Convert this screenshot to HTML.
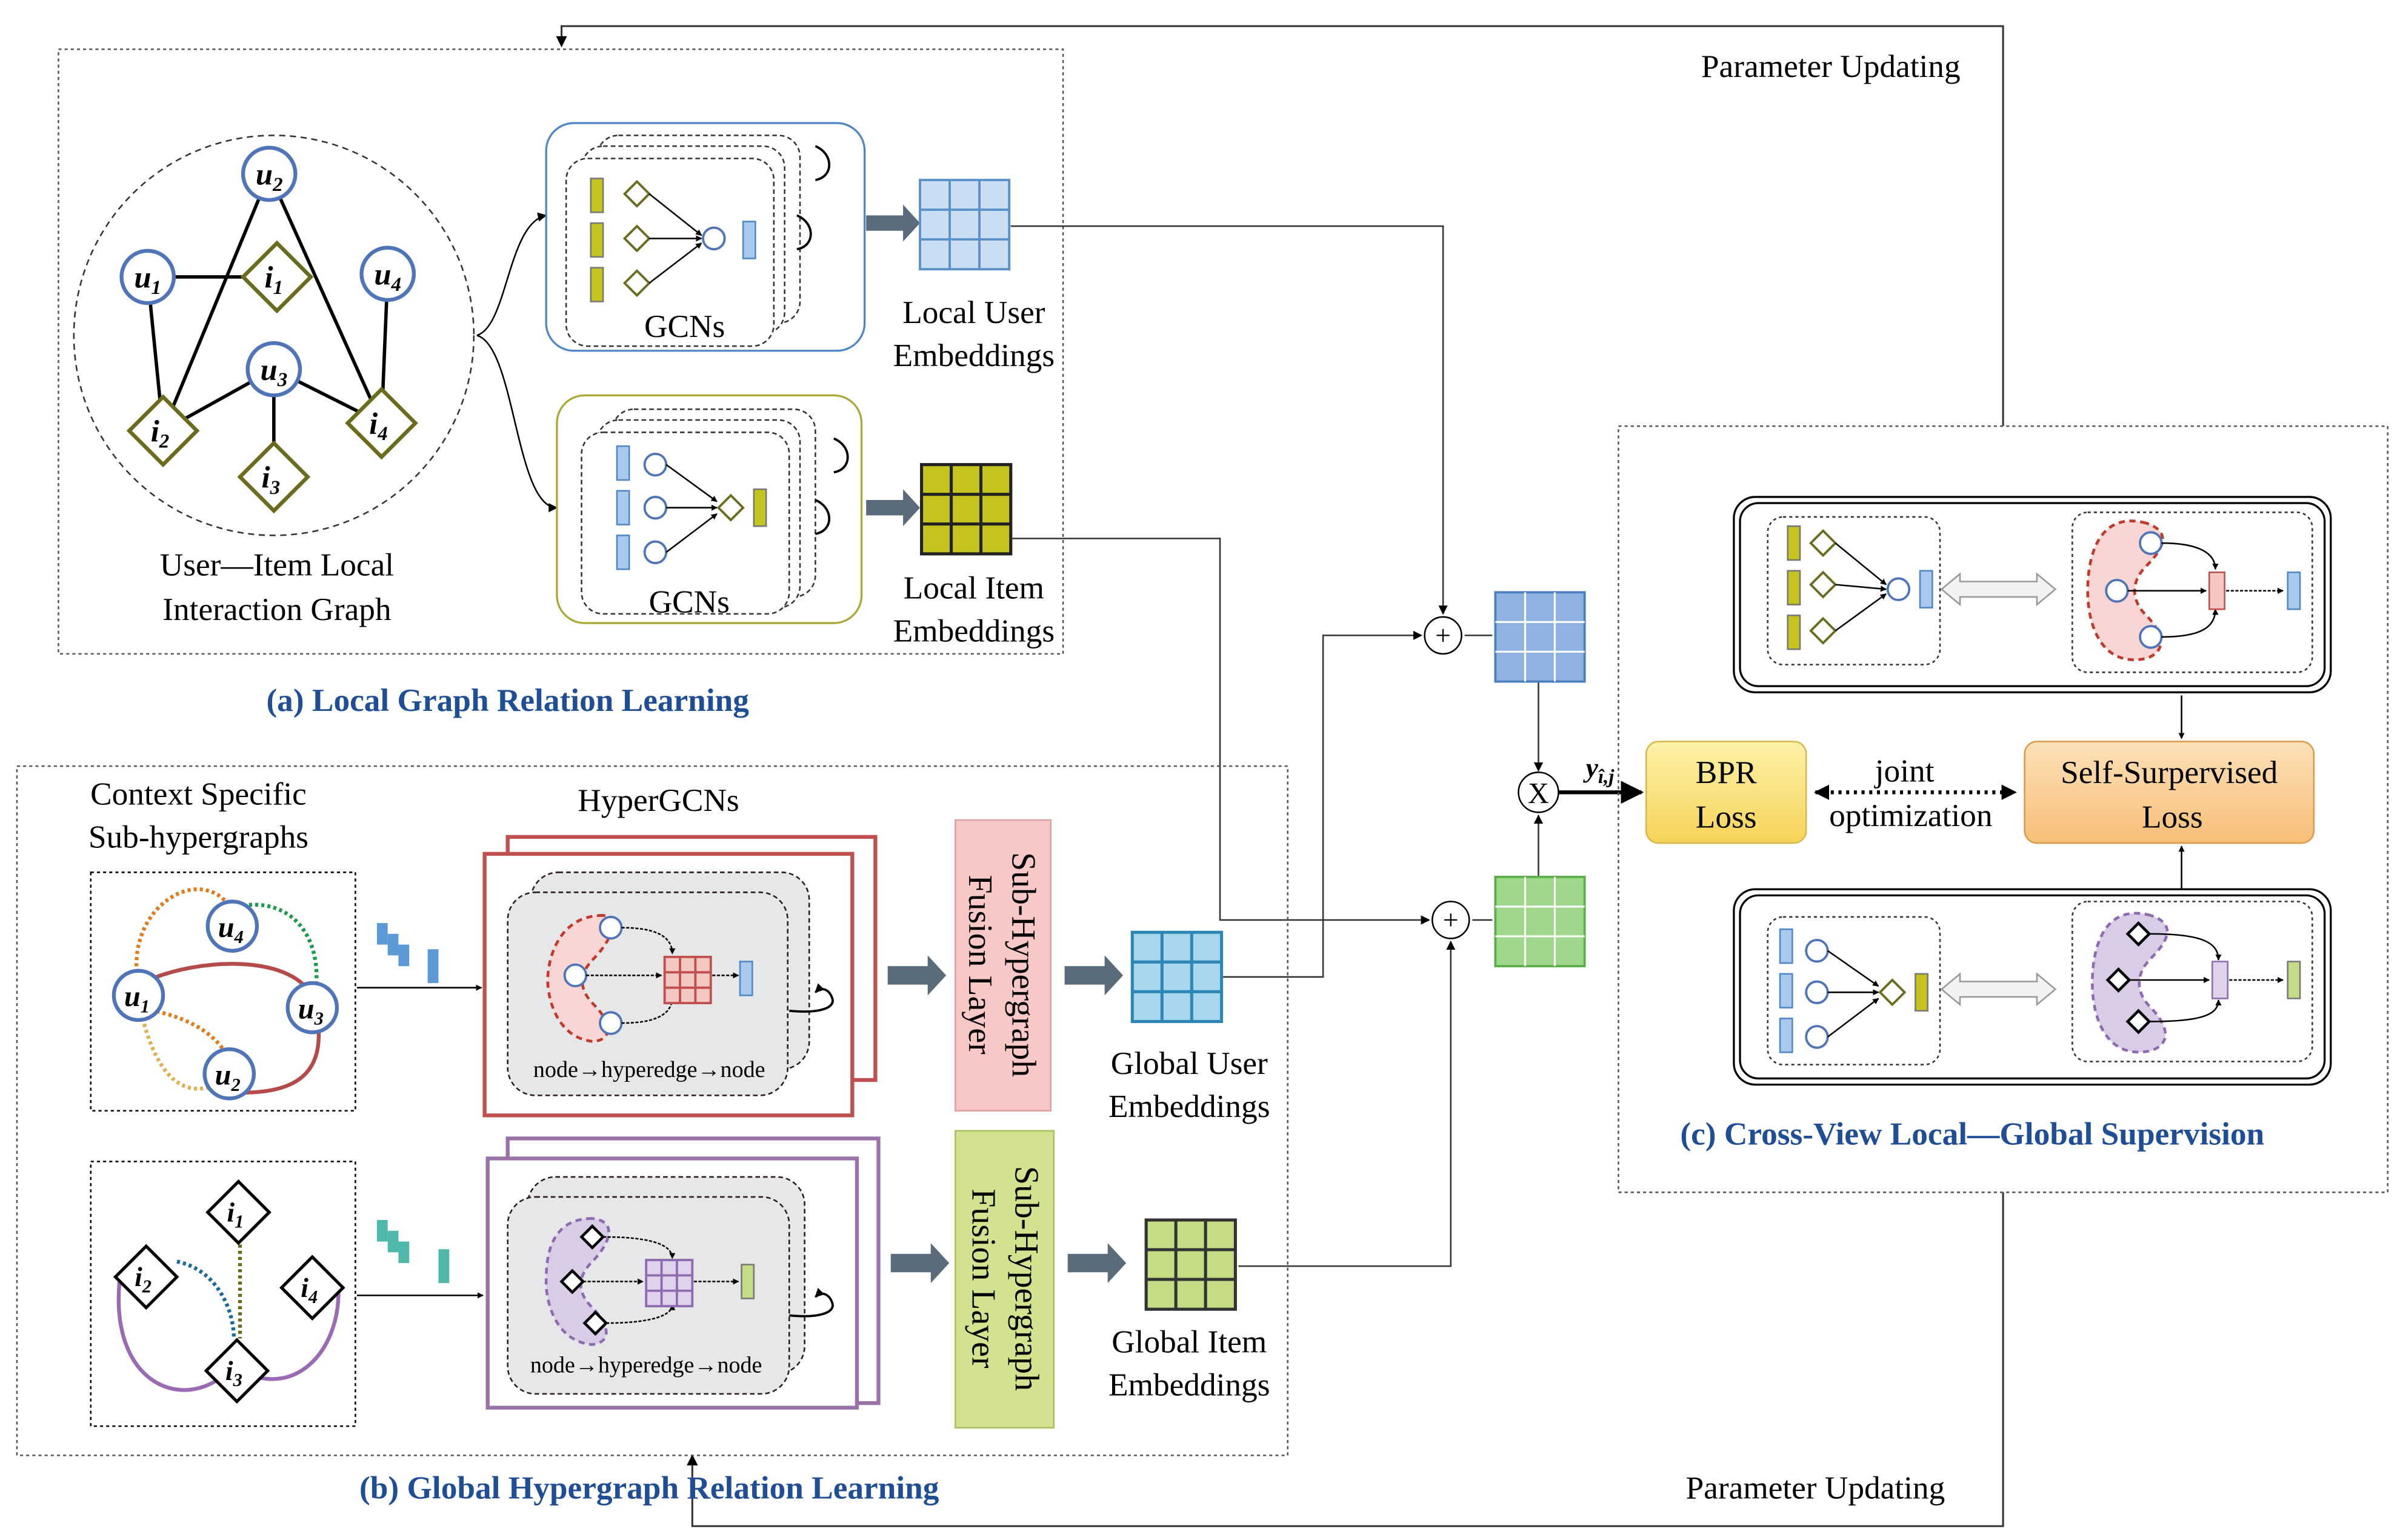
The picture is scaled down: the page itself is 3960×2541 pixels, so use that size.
<!DOCTYPE html>
<html><head><meta charset="utf-8"><style>html,body{margin:0;padding:0;background:#fff}svg{display:block}</style></head><body>
<svg width="3960" height="2541" viewBox="0 0 1560 1001" xmlns="http://www.w3.org/2000/svg" font-family="Liberation Serif, serif">
<defs>
<marker id="ar" viewBox="0 0 10 10" refX="9" refY="5" markerWidth="6" markerHeight="6" orient="auto"><path d="M0,0L10,5L0,10z" fill="#000"/></marker>
<marker id="ars" viewBox="0 0 10 10" refX="9" refY="5" markerWidth="4" markerHeight="4" orient="auto-start-reverse"><path d="M0,0L10,5L0,10z" fill="#000"/></marker>
<linearGradient id="by" x1="0" y1="0" x2="0" y2="1"><stop offset="0" stop-color="#fdf2a8"/><stop offset="1" stop-color="#f6d35a"/></linearGradient>
<linearGradient id="bo" x1="0" y1="0" x2="0" y2="1"><stop offset="0" stop-color="#fde0b8"/><stop offset="1" stop-color="#f7bf78"/></linearGradient>
<g id="gridB"><rect width="58" height="58" fill="#c9ddf3" stroke="#5b8fc7" stroke-width="1.5"/><path d="M19.3 0V58M38.6 0V58M0 19.3H58M0 38.6H58" stroke="#5b8fc7" stroke-width="1.5"/></g>
<g id="gridO"><rect width="58" height="58" fill="#c5c31e" stroke="#222" stroke-width="2"/><path d="M19.3 0V58M38.6 0V58M0 19.3H58M0 38.6H58" stroke="#222" stroke-width="2"/></g>
<g id="gridD"><rect width="58" height="58" fill="#8fb2e0" stroke="#4b7fc0" stroke-width="1.5"/><path d="M19.3 0V58M38.6 0V58M0 19.3H58M0 38.6H58" stroke="#fff" stroke-width="1.2"/></g>
<g id="gridG"><rect width="58" height="58" fill="#9fd78c" stroke="#5cae48" stroke-width="1.5"/><path d="M19.3 0V58M38.6 0V58M0 19.3H58M0 38.6H58" stroke="#fff" stroke-width="1.2"/></g>
<g id="gridLB"><rect width="58" height="58" fill="#a8d6ee" stroke="#2e86b5" stroke-width="2"/><path d="M19.3 0V58M38.6 0V58M0 19.3H58M0 38.6H58" stroke="#2e86b5" stroke-width="2"/></g>
<g id="gridLG"><rect width="58" height="58" fill="#c4dc84" stroke="#333" stroke-width="2"/><path d="M19.3 0V58M38.6 0V58M0 19.3H58M0 38.6H58" stroke="#333" stroke-width="2"/></g>
</defs>

<!-- feedback lines -->
<path d="M1302 277V17H365V30" fill="none" stroke="#333" stroke-width="1.2" marker-end="url(#ar)"/>
<path d="M1302 775V992H450V946" fill="none" stroke="#333" stroke-width="1.2" marker-end="url(#ar)"/>
<text x="1190" y="50" font-size="21" text-anchor="middle">Parameter Updating</text>
<text x="1180" y="974" font-size="21" text-anchor="middle">Parameter Updating</text>

<!-- (a) -->
<rect x="38" y="32" width="653" height="393" fill="none" stroke="#555" stroke-dasharray="2,2"/>
<circle cx="178" cy="218" r="130" fill="none" stroke="#333" stroke-dasharray="4,3"/>
<g stroke="#000" stroke-width="2.2">
<line x1="175" y1="113" x2="106" y2="280"/><line x1="175" y1="113" x2="248" y2="275"/>
<line x1="96" y1="180" x2="180" y2="180"/><line x1="96" y1="180" x2="106" y2="280"/>
<line x1="178" y1="240" x2="106" y2="280"/><line x1="178" y1="240" x2="248" y2="275"/>
<line x1="178" y1="240" x2="178" y2="310"/><line x1="252" y1="178" x2="248" y2="275"/>
</g>
<g fill="#fff" stroke="#4f74b8" stroke-width="2.5">
<circle cx="175" cy="113" r="17"/><circle cx="96" cy="180" r="17"/><circle cx="252" cy="178" r="17"/><circle cx="178" cy="240" r="17"/>
</g>
<g fill="#fff" stroke="#6b6b1e" stroke-width="2.5">
<path d="M180 158l22 22-22 22-22-22z"/><path d="M106 258l22 22-22 22-22-22z"/><path d="M248 253l22 22-22 22-22-22z"/><path d="M178 288l22 22-22 22-22-22z"/>
</g>
<g font-size="20" font-style="italic" font-weight="bold" text-anchor="middle">
<text x="175" y="120">u<tspan font-size="13" dy="4">2</tspan></text>
<text x="96" y="187">u<tspan font-size="13" dy="4">1</tspan></text>
<text x="252" y="185">u<tspan font-size="13" dy="4">4</tspan></text>
<text x="178" y="247">u<tspan font-size="13" dy="4">3</tspan></text>
<text x="178" y="187">i<tspan font-size="13" dy="4">1</tspan></text>
<text x="104" y="287">i<tspan font-size="13" dy="4">2</tspan></text>
<text x="246" y="282">i<tspan font-size="13" dy="4">4</tspan></text>
<text x="176" y="317">i<tspan font-size="13" dy="4">3</tspan></text>
</g>
<text x="180" y="374" font-size="21" text-anchor="middle">User—Item Local</text>
<text x="180" y="403" font-size="21" text-anchor="middle">Interaction Graph</text>
<path d="M310 218C330 212 330 145 355 140" fill="none" stroke="#000" marker-end="url(#ar)"/>
<path d="M310 218C335 225 335 330 362 330" fill="none" stroke="#000" marker-end="url(#ar)"/>

<!-- GCN1 -->
<rect x="355" y="80" width="207" height="148" rx="18" fill="#fff" stroke="#4f86c6" stroke-width="1.3"/>
<g fill="#fff" stroke="#333" stroke-dasharray="3,2">
<rect x="388" y="88" width="132" height="122" rx="14"/><rect x="378" y="95" width="132" height="122" rx="14"/><rect x="368" y="103" width="135" height="122" rx="14"/>
</g>
<path d="M530 95c12 5 12 20 0 22M518 140c12 5 12 20 0 22" fill="none" stroke="#000" stroke-width="1.5"/>
<g fill="#c5c31e" stroke="#777"><rect x="384" y="116" width="8" height="22"/><rect x="384" y="145" width="8" height="22"/><rect x="384" y="174" width="8" height="22"/></g>
<g fill="#fff" stroke="#6b6b1e" stroke-width="1.5"><path d="M414 118l8 8-8 8-8-8z"/><path d="M414 147l8 8-8 8-8-8z"/><path d="M414 176l8 8-8 8-8-8z"/></g>
<g stroke="#000"><line x1="422" y1="126" x2="456" y2="153" marker-end="url(#ars)"/><line x1="422" y1="155" x2="456" y2="155" marker-end="url(#ars)"/><line x1="422" y1="184" x2="456" y2="158" marker-end="url(#ars)"/></g>
<circle cx="464" cy="155" r="7" fill="#fff" stroke="#4f74b8" stroke-width="1.5"/>
<rect x="483" y="144" width="8" height="24" fill="#a8c8ec" stroke="#4f86c6"/>
<text x="445" y="219" font-size="21" text-anchor="middle">GCNs</text>

<!-- GCN2 -->
<rect x="362" y="257" width="198" height="148" rx="18" fill="#fff" stroke="#a9a938" stroke-width="1.3"/>
<g fill="#fff" stroke="#333" stroke-dasharray="3,2">
<rect x="398" y="266" width="132" height="122" rx="14"/><rect x="388" y="273" width="132" height="122" rx="14"/><rect x="378" y="281" width="135" height="118" rx="14"/>
</g>
<path d="M542 285c12 5 12 20 0 22M530 325c12 5 12 20 0 22" fill="none" stroke="#000" stroke-width="1.5"/>
<g fill="#a8c8ec" stroke="#4f86c6"><rect x="401" y="290" width="8" height="22"/><rect x="401" y="319" width="8" height="22"/><rect x="401" y="348" width="8" height="22"/></g>
<g fill="#fff" stroke="#4f74b8" stroke-width="1.5"><circle cx="426" cy="302" r="7"/><circle cx="426" cy="330" r="7"/><circle cx="426" cy="359" r="7"/></g>
<g stroke="#000"><line x1="433" y1="302" x2="466" y2="326" marker-end="url(#ars)"/><line x1="433" y1="330" x2="466" y2="330" marker-end="url(#ars)"/><line x1="433" y1="359" x2="466" y2="334" marker-end="url(#ars)"/></g>
<path d="M475 322l8 8-8 8-8-8z" fill="#fff" stroke="#6b6b1e" stroke-width="1.5"/>
<rect x="490" y="318" width="8" height="24" fill="#c5c31e" stroke="#777"/>
<text x="448" y="398" font-size="21" text-anchor="middle">GCNs</text>

<!-- thick arrows -->
<g fill="#5a6b7b">
<path d="M563 140h24v-7l11 12-11 12v-7h-24z"/><path d="M563 325h24v-7l11 12-11 12v-7h-24z"/>
<path d="M577 628h26v-7l12 13-12 13v-7h-26z"/><path d="M692 628h26v-7l12 13-12 13v-7h-26z"/>
<path d="M579 815h26v-7l12 13-12 13v-7h-26z"/><path d="M694 815h26v-7l12 13-12 13v-7h-26z"/>
</g>
<use href="#gridB" x="598" y="117"/><use href="#gridO" x="599" y="302"/>
<g font-size="21" text-anchor="middle">
<text x="633" y="210">Local User</text><text x="633" y="238">Embeddings</text>
<text x="633" y="389">Local Item</text><text x="633" y="417">Embeddings</text>
<text x="773" y="698">Global User</text><text x="773" y="726">Embeddings</text>
<text x="773" y="879">Global Item</text><text x="773" y="907">Embeddings</text>
</g>
<text x="330" y="462" font-size="21" font-weight="bold" fill="#1f4e96" text-anchor="middle">(a) Local Graph Relation Learning</text>

<!-- connectors -->
<g fill="none" stroke="#333" stroke-width="1">
<path d="M657 147H938V399" marker-end="url(#ar)"/>
<path d="M657 350H793V598H929" marker-end="url(#ar)"/>
<path d="M795 635H860V413H924" marker-end="url(#ar)"/>
<path d="M805 823H943V612" marker-end="url(#ar)"/>
<path d="M952 413H970"/><path d="M957 598H970"/>
<path d="M1000 443V501" marker-end="url(#ar)"/><path d="M1000 570V530" marker-end="url(#ar)"/>
</g>
<g fill="#fff" stroke="#000"><circle cx="938" cy="413" r="12"/><circle cx="943" cy="598" r="12"/><circle cx="1000" cy="515" r="13"/></g>
<text x="938" y="419" font-size="18" text-anchor="middle">+</text><text x="943" y="604" font-size="18" text-anchor="middle">+</text>
<text x="1000" y="522" font-size="19" text-anchor="middle">X</text>
<use href="#gridD" x="972" y="385"/><use href="#gridG" x="972" y="570"/>
<line x1="1013" y1="515" x2="1067" y2="515" stroke="#000" stroke-width="2.5" marker-end="url(#ar)"/>
<text x="1040" y="505" font-size="18" font-style="italic" font-weight="bold" text-anchor="middle">y<tspan font-size="13" dy="4">î,j</tspan></text>

<!-- (c) -->
<rect x="1052" y="277" width="500" height="498" fill="none" stroke="#555" stroke-dasharray="2,2"/>
<rect x="1070" y="482" width="104" height="66" rx="8" fill="url(#by)" stroke="#d9b84a"/>
<text x="1122" y="509" font-size="21" text-anchor="middle">BPR</text><text x="1122" y="538" font-size="21" text-anchor="middle">Loss</text>
<rect x="1316" y="482" width="188" height="66" rx="8" fill="url(#bo)" stroke="#d99a4a"/>
<text x="1410" y="509" font-size="21" text-anchor="middle">Self-Surpervised</text><text x="1412" y="538" font-size="21" text-anchor="middle">Loss</text>
<line x1="1180" y1="515" x2="1310" y2="515" stroke="#000" stroke-width="2.5" stroke-dasharray="2,3" marker-start="url(#ars)" marker-end="url(#ars)"/>
<text x="1238" y="508" font-size="21" text-anchor="middle">joint</text><text x="1242" y="537" font-size="21" text-anchor="middle">optimization</text>
<g fill="#fff" stroke="#000" stroke-width="1.3">
<rect x="1127" y="323" width="388" height="127" rx="14"/><rect x="1131" y="327" width="380" height="119" rx="12"/>
<rect x="1127" y="578" width="388" height="127" rx="14"/><rect x="1131" y="582" width="380" height="119" rx="12"/>
</g>
<line x1="1418" y1="452" x2="1418" y2="480" stroke="#000" marker-end="url(#ars)"/>
<line x1="1418" y1="578" x2="1418" y2="550" stroke="#000" marker-end="url(#ars)"/>
<g fill="none" stroke="#333" stroke-dasharray="2,2">
<rect x="1149" y="336" width="112" height="96" rx="10"/><rect x="1347" y="333" width="156" height="104" rx="10"/>
<rect x="1149" y="596" width="112" height="96" rx="10"/><rect x="1347" y="586" width="156" height="104" rx="10"/>
</g>
<!-- c top left -->
<g fill="#c5c31e" stroke="#777"><rect x="1162" y="342" width="8" height="22"/><rect x="1162" y="371" width="8" height="22"/><rect x="1162" y="400" width="8" height="22"/></g>
<g fill="#fff" stroke="#6b6b1e" stroke-width="1.5"><path d="M1185 345l8 8-8 8-8-8z"/><path d="M1185 372l8 8-8 8-8-8z"/><path d="M1185 402l8 8-8 8-8-8z"/></g>
<g stroke="#000"><line x1="1193" y1="353" x2="1226" y2="380" marker-end="url(#ars)"/><line x1="1193" y1="380" x2="1226" y2="383" marker-end="url(#ars)"/><line x1="1193" y1="410" x2="1226" y2="386" marker-end="url(#ars)"/></g>
<circle cx="1234" cy="383" r="7" fill="#fff" stroke="#4f74b8" stroke-width="1.5"/>
<rect x="1248" y="371" width="8" height="24" fill="#a8c8ec" stroke="#4f86c6"/>
<path d="M1262 383l12-10v5h50v-5l12 10-12 10v-5h-50v5z" fill="#f2f2f2" stroke="#999"/>
<path d="M1395 340c-30-8-38 20-38 44s10 50 38 44c15-5 10-18 0-28-10-10-10-22 0-32 10-10 18-22 0-28z" fill="#f9d6d3" stroke="#c0392b" stroke-width="1.8" stroke-dasharray="4,3"/>
<g fill="#fff" stroke="#4f74b8" stroke-width="1.5"><circle cx="1398" cy="353" r="7"/><circle cx="1376" cy="384" r="7"/><circle cx="1398" cy="414" r="7"/></g>
<g stroke="#000" fill="none"><path d="M1405 353C1430 353 1440 360 1440 370" marker-end="url(#ars)"/><line x1="1383" y1="384" x2="1434" y2="384" marker-end="url(#ars)"/><path d="M1405 414C1430 414 1440 408 1440 396" marker-end="url(#ars)"/><line x1="1447" y1="384" x2="1484" y2="384" stroke-dasharray="2,1" marker-end="url(#ars)"/></g>
<rect x="1436" y="372" width="10" height="24" fill="#f4c7c3" stroke="#c0504d"/>
<rect x="1487" y="372" width="8" height="24" fill="#a8c8ec" stroke="#4f86c6"/>
<!-- c bottom left -->
<g fill="#a8c8ec" stroke="#4f86c6"><rect x="1157" y="604" width="8" height="22"/><rect x="1157" y="633" width="8" height="22"/><rect x="1157" y="662" width="8" height="22"/></g>
<g fill="#fff" stroke="#4f74b8" stroke-width="1.5"><circle cx="1181" cy="618" r="7"/><circle cx="1181" cy="645" r="7"/><circle cx="1181" cy="674" r="7"/></g>
<g stroke="#000"><line x1="1188" y1="618" x2="1221" y2="641" marker-end="url(#ars)"/><line x1="1188" y1="645" x2="1221" y2="645" marker-end="url(#ars)"/><line x1="1188" y1="674" x2="1221" y2="649" marker-end="url(#ars)"/></g>
<path d="M1230 637l8 8-8 8-8-8z" fill="#fff" stroke="#6b6b1e" stroke-width="1.5"/>
<rect x="1245" y="633" width="8" height="24" fill="#c5c31e" stroke="#777"/>
<path d="M1262 643l12-10v5h50v-5l12 10-12 10v-5h-50v5z" fill="#f2f2f2" stroke="#999"/>
<path d="M1398 595c-30-8-38 20-38 44s10 50 38 44c15-5 10-18 0-28-10-10-10-22 0-32 10-10 18-22 0-28z" fill="#d8cce6" stroke="#8e6bb0" stroke-width="1.8" stroke-dasharray="4,3"/>
<g fill="#fff" stroke="#000" stroke-width="1.8"><path d="M1390 600l7 7-7 7-7-7z"/><path d="M1377 630l7 7-7 7-7-7z"/><path d="M1390 657l7 7-7 7-7-7z"/></g>
<g stroke="#000" fill="none"><path d="M1397 607C1430 607 1442 612 1442 624" marker-end="url(#ars)"/><line x1="1384" y1="637" x2="1436" y2="637" marker-end="url(#ars)"/><path d="M1397 664C1430 664 1442 660 1442 650" marker-end="url(#ars)"/><line x1="1449" y1="637" x2="1484" y2="637" stroke-dasharray="2,1" marker-end="url(#ars)"/></g>
<rect x="1438" y="625" width="10" height="24" fill="#e0d2ec" stroke="#8e6bb0"/>
<rect x="1487" y="625" width="8" height="24" fill="#c4dc84" stroke="#777"/>
<text x="1282" y="744" font-size="21" font-weight="bold" fill="#1f4e96" text-anchor="middle">(c) Cross-View Local—Global  Supervision</text>

<!-- (b) -->
<rect x="11" y="498" width="826" height="448" fill="none" stroke="#555" stroke-dasharray="2,2"/>
<text x="129" y="523" font-size="21" text-anchor="middle">Context Specific</text>
<text x="129" y="551" font-size="21" text-anchor="middle">Sub-hypergraphs</text>
<text x="428" y="527" font-size="21" text-anchor="middle">HyperGCNs</text>
<rect x="59" y="567" width="172" height="155" fill="none" stroke="#000" stroke-dasharray="2,2"/>
<rect x="59" y="755" width="172" height="172" fill="none" stroke="#000" stroke-dasharray="2,2"/>
<!-- sub-hypergraph1 -->
<path d="M90 640C80 590 130 560 150 590" fill="none" stroke="#e07b1a" stroke-width="2.5" stroke-dasharray="2,2"/>
<path d="M150 590C190 580 210 610 205 645" fill="none" stroke="#1a9a4a" stroke-width="2.5" stroke-dasharray="2,2"/>
<path d="M90 650C100 700 120 720 150 700" fill="none" stroke="#e0b050" stroke-width="2.5" stroke-dasharray="2,2"/>
<path d="M90 655C120 660 140 670 150 690" fill="none" stroke="#e07b1a" stroke-width="2.5" stroke-dasharray="2,2"/>
<path d="M90 640C130 620 200 620 205 655C215 700 190 712 150 710" fill="none" stroke="#b54a4a" stroke-width="2.5"/>
<g fill="#fff" stroke="#4f74b8" stroke-width="2.5"><circle cx="151" cy="602" r="16"/><circle cx="90" cy="647" r="16"/><circle cx="203" cy="655" r="16"/><circle cx="149" cy="698" r="16"/></g>
<g font-size="19" font-style="italic" font-weight="bold" text-anchor="middle">
<text x="150" y="609">u<tspan font-size="12" dy="4">4</tspan></text><text x="89" y="654">u<tspan font-size="12" dy="4">1</tspan></text>
<text x="202" y="662">u<tspan font-size="12" dy="4">3</tspan></text><text x="148" y="705">u<tspan font-size="12" dy="4">2</tspan></text>
</g>
<!-- sub-hypergraph2 -->
<path d="M78 830C70 900 120 920 150 890M155 890C190 910 220 880 220 840" fill="none" stroke="#9a6ab5" stroke-width="2.5"/>
<path d="M115 820C140 825 152 850 152 870" fill="none" stroke="#1a6a9a" stroke-width="2.5" stroke-dasharray="2,2"/>
<path d="M156 805V870" fill="none" stroke="#6b6b1e" stroke-width="2.5" stroke-dasharray="2,2"/>
<g fill="#fff" stroke="#000" stroke-width="2"><path d="M155 768l20 20-20 20-20-20z"/><path d="M95 810l20 20-20 20-20-20z"/><path d="M203 817l20 20-20 20-20-20z"/><path d="M154 871l20 20-20 20-20-20z"/></g>
<g font-size="18" font-style="italic" font-weight="bold" text-anchor="middle">
<text x="153" y="794">i<tspan font-size="12" dy="4">1</tspan></text><text x="93" y="836">i<tspan font-size="12" dy="4">2</tspan></text>
<text x="201" y="843">i<tspan font-size="12" dy="4">4</tspan></text><text x="152" y="897">i<tspan font-size="12" dy="4">3</tspan></text>
</g>
<!-- small vectors -->
<g fill="#5b9ad6"><rect x="245" y="600" width="7" height="14"/><rect x="252" y="607" width="7" height="14"/><rect x="259" y="614" width="7" height="14"/><rect x="278" y="617" width="7" height="22"/></g>
<g fill="#4fb8a8"><rect x="245" y="793" width="7" height="14"/><rect x="252" y="800" width="7" height="14"/><rect x="259" y="807" width="7" height="14"/><rect x="285" y="812" width="7" height="22"/></g>
<line x1="232" y1="642" x2="313" y2="642" stroke="#000" marker-end="url(#ars)"/>
<line x1="232" y1="842" x2="314" y2="842" stroke="#000" marker-end="url(#ars)"/>
<!-- red hyperGCN -->
<g fill="#fff" stroke="#c0504d" stroke-width="2.5"><rect x="330" y="544" width="239" height="158"/><rect x="315" y="555" width="239" height="170"/></g>
<g fill="#e6e7e9" stroke="#2a1a1a" stroke-dasharray="3,2"><rect x="345" y="567" width="181" height="128" rx="18"/><rect x="330" y="580" width="182" height="132" rx="18"/></g>
<path d="M392 595c-30 0-36 30-36 42s6 38 30 40c14-2 10-14 0-24-10-10-10-20 0-30 10-10 18-26 6-28z" fill="#f9d6d3" stroke="#c0392b" stroke-width="1.8" stroke-dasharray="4,3"/>
<g fill="#fff" stroke="#4f74b8" stroke-width="1.5"><circle cx="397" cy="603" r="7"/><circle cx="374" cy="634" r="7"/><circle cx="397" cy="665" r="7"/></g>
<g stroke="#000" fill="none" stroke-dasharray="2,1"><path d="M404 603C425 603 437 608 437 620" marker-end="url(#ars)"/><line x1="381" y1="634" x2="430" y2="634" marker-end="url(#ars)"/><path d="M404 665C425 665 437 660 437 648" marker-end="url(#ars)"/><line x1="463" y1="634" x2="480" y2="634" marker-end="url(#ars)"/></g>
<rect x="432" y="622" width="30" height="30" fill="#f4c7c3" stroke="#c0504d" stroke-width="1.5"/><path d="M442 622v30M452 622v30M432 632h30M432 642h30" stroke="#c0504d" stroke-width="1.5"/>
<rect x="481" y="625" width="8" height="22" fill="#a8c8ec" stroke="#4f86c6"/>
<path d="M513 657c20 2 30-2 28-8s-7-8-11-4" fill="none" stroke="#000" stroke-width="1.5" marker-end="url(#ars)"/>
<text x="422" y="700" font-size="15" text-anchor="middle">node→hyperedge→node</text>
<!-- purple hyperGCN -->
<g fill="#fff" stroke="#9a72a8" stroke-width="2.5"><rect x="330" y="740" width="241" height="172"/><rect x="317" y="753" width="240" height="162"/></g>
<g fill="#e6e7e9" stroke="#2a1a1a" stroke-dasharray="3,2"><rect x="343" y="765" width="180" height="128" rx="18"/><rect x="330" y="778" width="183" height="128" rx="18"/></g>
<path d="M385 792c-30 0-30 30-30 42s6 38 30 40c14-2 10-14 0-24-10-10-10-20 0-30 10-10 18-26 0-28z" fill="#d8cce6" stroke="#8e6bb0" stroke-width="1.8" stroke-dasharray="4,3"/>
<g fill="#fff" stroke="#000" stroke-width="1.8"><path d="M385 797l7 7-7 7-7-7z"/><path d="M372 826l7 7-7 7-7-7z"/><path d="M387 853l7 7-7 7-7-7z"/></g>
<g stroke="#000" fill="none" stroke-dasharray="2,1"><path d="M392 804C420 804 437 808 437 818" marker-end="url(#ars)"/><line x1="379" y1="833" x2="418" y2="833" marker-end="url(#ars)"/><path d="M394 860C420 860 437 856 437 848" marker-end="url(#ars)"/><line x1="451" y1="833" x2="480" y2="833" marker-end="url(#ars)"/></g>
<rect x="420" y="819" width="30" height="30" fill="#e0d2ec" stroke="#8e6bb0" stroke-width="1.5"/><path d="M430 819v30M440 819v30M420 829h30M420 839h30" stroke="#8e6bb0" stroke-width="1.5"/>
<rect x="482" y="822" width="8" height="22" fill="#c4dc84" stroke="#777"/>
<path d="M513 855c20 2 30-2 28-8s-7-8-11-4" fill="none" stroke="#000" stroke-width="1.5" marker-end="url(#ars)"/>
<text x="420" y="892" font-size="15" text-anchor="middle">node→hyperedge→node</text>
<!-- fusion layers -->
<rect x="621" y="533" width="62" height="189" fill="#f7c8c6" stroke="#e0a0a0"/>
<rect x="621" y="735" width="64" height="193" fill="#d2e28e" stroke="#a9bf60"/>
<g font-size="22" text-anchor="middle">
<text transform="translate(658 627) rotate(90)">Sub-Hypergraph</text>
<text transform="translate(630 627) rotate(90)">Fusion Layer</text>
<text transform="translate(660 831) rotate(90)">Sub-Hypergraph</text>
<text transform="translate(632 831) rotate(90)">Fusion Layer</text>
</g>
<use href="#gridLB" x="736" y="606"/><use href="#gridLG" x="745" y="793"/>
<text x="422" y="974" font-size="21" font-weight="bold" fill="#1f4e96" text-anchor="middle">(b) Global Hypergraph Relation Learning</text>
</svg>
</body></html>
